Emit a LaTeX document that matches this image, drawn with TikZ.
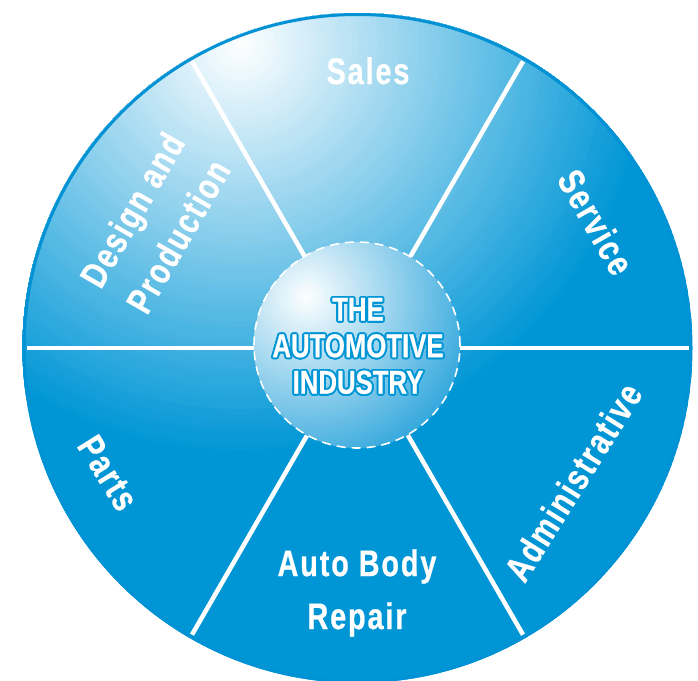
\documentclass[tikz,border=0pt]{standalone}
\usepackage{fontspec}
\setmainfont{Liberation Sans}
\newfontfamily\labfont{Liberation Sans}[FakeStretch=0.78,LetterSpace=5,FakeBold=0.6]
\newfontfamily\hubfont{Liberation Sans}[FakeStretch=0.78,FakeBold=0.5]
\usetikzlibrary{calc}
\definecolor{cblue}{RGB}{0,150,214}
\definecolor{cbluein}{RGB}{34,160,218}
\definecolor{cborder}{RGB}{0,146,212}
\newcommand\olword[1]{%
  \foreach \ang in {0,22.5,...,337.5}{%
    \pgfmathsetlengthmacro\odx{1.9pt*cos(\ang)}%
    \pgfmathsetlengthmacro\ody{1.9pt*sin(\ang)}%
    \makebox[0pt][l]{\hspace*{\odx}\raisebox{\ody}{\textcolor{cblue}{#1}}}%
  }%
  \textcolor{white}{#1}}
\begin{document}
\begin{tikzpicture}[x=1pt,y=-1pt,
  divider/.style={white,line width=4.5pt},
  lab/.style={text=white,font=\labfont\bfseries\fontsize{37}{53}\selectfont,align=center,inner sep=0pt},
  hubtext/.style={font=\hubfont\bfseries\fontsize{33}{36.5}\selectfont,align=center,inner sep=0pt}]
\useasboundingbox (0,0) rectangle (698,680);
\coordinate (C) at (357.5,348);
\coordinate (HL) at (240,45);
\coordinate (HC) at (357,345);
\coordinate (HH) at (307,297);
% outer disc with highlight
\begin{scope}
  \clip (C) circle (335pt);
  \fill[cblue] (C) circle (335pt);
  \foreach \i in {0,...,80}{%
    \pgfmathsetmacro\rr{410*(1-\i/80)}%
    \pgfmathtruncatemacro\pp{100*(1-\i/80)}%
    \fill[cblue!\pp!white] (HL) circle (\rr pt);
  }
\end{scope}
\draw[cborder,line width=3pt] (C) circle (333.5pt);
\foreach \a in {0,60,...,300}
  \draw[divider] ($(C)+(\a:95)$) -- ($(C)+(\a:331)$);
% hub
\begin{scope}
  \clip (HC) circle (103pt);
  \fill[cbluein] (HC) circle (103pt);
  \foreach \i in {0,...,50}{%
    \pgfmathsetmacro\rr{190*(1-\i/50)}%
    \pgfmathtruncatemacro\pp{100*(1-\i/50)}%
    \fill[cbluein!\pp!white] (HH) circle (\rr pt);
  }
\end{scope}
\node[circle,minimum size=206pt,inner sep=0pt,draw=white,line width=1.6pt,dash pattern=on 9pt off 6pt] (hub) at (HC) {};
\node[hubtext] (title) at (358,346) {\olword{THE}\\\olword{AUTOMOTIVE}\\\olword{INDUSTRY}};
\node[lab,anchor=base] (sales) at (368,84) {Sales};
\node[lab,rotate=-60] (service) at (596,222) {Service};
\node[lab,rotate=58] (admin) at (573,482) {Administrative};
\node[lab,rotate=-58] (parts) at (108,473) {Parts};
\node[lab,rotate=60] (design) at (155,223) {Design and\\Production};
\node[lab] (body) at (357,593) {Auto Body\\Repair};
\end{tikzpicture}
\end{document}
